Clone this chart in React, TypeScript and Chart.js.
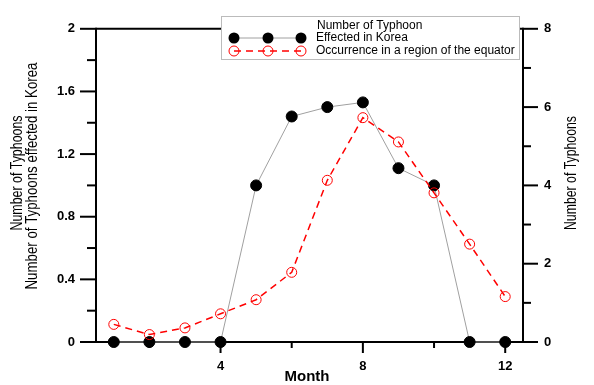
import React, { useEffect, useRef } from "react";
import { Chart, registerables } from "chart.js";

Chart.register(...registerables);

const months = [1, 2, 3, 4, 5, 6, 7, 8, 9, 10, 11, 12];
const koreaValues = [0, 0, 0, 0, 1.0, 1.44, 1.5, 1.53, 1.11, 1.0, 0, 0];
const equatorValues = [0.45, 0.19, 0.36, 0.72, 1.08, 1.78, 4.13, 5.73, 5.11, 3.81, 2.5, 1.16];
const xTickLabels = [4, 8, 12];
const leftTicks = [0, 0.4, 0.8, 1.2, 1.6, 2];
const rightTicks = [0, 2, 4, 6, 8];

const legendTitle = "Number of Typhoon";
const koreaLabel = "Effected in Korea";
const equatorLabel = "Occurrence in a region of the equator";
const leftTitle1 = "Number of Typhoons";
const leftTitle2 = "Number of Typhoons effected in Korea";
const rightTitle = "Number of Typhoons";
const xTitle = "Month";

const SANS = '"Liberation Sans", Arial, sans-serif';

function narrowText(ctx: any, text: string, x: number, y: number, targetW: number) {
  ctx.save();
  ctx.translate(x, y);
  ctx.rotate(-Math.PI / 2);
  const w = ctx.measureText(text).width;
  const s = targetW / w;
  ctx.scale(s, 1);
  ctx.fillText(text, 0, 0);
  ctx.restore();
}

const framePlugin = {
  id: "frame",
  beforeDatasetsDraw(chart: any) {
    const ctx = chart.ctx;
    const { left, right, top, bottom } = chart.chartArea;
    const xs = chart.scales.x;
    const yl = chart.scales.yL;
    const yr = chart.scales.yR;
    ctx.save();
    ctx.strokeStyle = "#000";
    ctx.lineWidth = 2;
    const ln = (a: number, b: number, c: number, d: number) => {
      ctx.beginPath();
      ctx.moveTo(a, b);
      ctx.lineTo(c, d);
      ctx.stroke();
    };
    ln(left, top, right, top);
    ln(left, bottom, right, bottom);
    ln(left, top - 1, left, bottom + 1);
    ln(right, top - 1, right, bottom + 1);
    for (let i = 0; i <= 10; i++) {
      const y = yl.getPixelForValue(i * 0.2);
      const len = i % 2 === 0 ? 16 : 9;
      ln(left - len, y, left, y);
    }
    for (let i = 0; i <= 8; i++) {
      const y = yr.getPixelForValue(i);
      const len = i % 2 === 0 ? 15 : 8;
      ln(right, y, right + len, y);
    }
    for (let m = 2; m <= 12; m += 2) {
      const x = xs.getPixelForValue(m);
      const len = m % 4 === 0 ? 11 : 6;
      ln(x, bottom, x, bottom + len);
    }
    ctx.fillStyle = "#000";
    ctx.textAlign = "center";
    ctx.textBaseline = "middle";
    ctx.font = `500 16px ${SANS}`;
    narrowText(ctx, leftTitle1, 18, 173, 115);
    narrowText(ctx, leftTitle2, 33, 176, 227);
    narrowText(ctx, rightTitle, 572, 173, 114);
    ctx.font = `bold 15px ${SANS}`;
    ctx.fillText(xTitle, 307, 377);
    ctx.restore();
  },
  afterDraw(chart: any) {
    const ctx = chart.ctx;
    ctx.save();
    const bx = 221, by = 16, bw = 298, bh = 43;
    ctx.fillStyle = "#fff";
    ctx.fillRect(bx, by, bw, bh);
    ctx.strokeStyle = "#bbb";
    ctx.lineWidth = 1;
    ctx.strokeRect(bx + 0.5, by + 0.5, bw, bh);
    const mx = [234, 268, 301];
    const yB = 38;
    ctx.strokeStyle = "#a0a0a0";
    ctx.lineWidth = 1;
    ctx.beginPath();
    ctx.moveTo(mx[0], yB);
    ctx.lineTo(mx[2], yB);
    ctx.stroke();
    ctx.fillStyle = "#000";
    for (const x of mx) {
      ctx.beginPath();
      ctx.arc(x, yB, 5.5, 0, Math.PI * 2);
      ctx.fill();
    }
    const yR = 51;
    ctx.strokeStyle = "#ff0000";
    ctx.lineWidth = 1.5;
    ctx.setLineDash([7, 5]);
    ctx.beginPath();
    ctx.moveTo(mx[0], yR);
    ctx.lineTo(mx[2], yR);
    ctx.stroke();
    ctx.setLineDash([]);
    ctx.lineWidth = 1;
    for (const x of mx) {
      ctx.beginPath();
      ctx.arc(x, yR, 5, 0, Math.PI * 2);
      ctx.stroke();
    }
    ctx.fillStyle = "#000";
    ctx.textAlign = "left";
    ctx.textBaseline = "middle";
    ctx.font = `12px ${SANS}`;
    ctx.fillText(legendTitle, 317, 26);
    ctx.fillText(koreaLabel, 316, 38);
    ctx.fillText(equatorLabel, 316, 51);
    ctx.restore();
  },
};

export default function App() {
  const ref = useRef<HTMLCanvasElement>(null);
  useEffect(() => {
    if (!ref.current) return;
    const chart = new Chart(ref.current, {
      type: "line",
      data: {
        datasets: [
          {
            label: equatorLabel,
            data: months.map((m, i) => ({ x: m, y: equatorValues[i] })),
            yAxisID: "yR",
            borderColor: "#ff0000",
            borderWidth: 1.5,
            borderDash: [7, 5],
            pointRadius: 5,
            pointBorderWidth: 1,
            pointBackgroundColor: "rgba(0,0,0,0)",
            pointBorderColor: "#ff0000",
            fill: false,
            clip: false as any,
          },
          {
            label: koreaLabel,
            data: months.map((m, i) => ({ x: m, y: koreaValues[i] })),
            yAxisID: "yL",
            borderColor: "#a0a0a0",
            borderWidth: 1,
            pointRadius: 5.5,
            pointBackgroundColor: "#000",
            pointBorderColor: "#000",
            fill: false,
            clip: false as any,
          },
        ],
      },
      options: {
        responsive: false,
        animation: false,
        events: [],
        layout: { padding: { top: 12, left: 0, right: 0, bottom: 0 } },
        plugins: { legend: { display: false }, tooltip: { enabled: false } },
        scales: {
          x: {
            type: "linear",
            min: 0.5,
            max: 12.5,
            grid: { display: false, drawTicks: false },
            border: { display: false },
            afterBuildTicks: (s: any) => {
              s.ticks = xTickLabels.map((v) => ({ value: v }));
            },
            afterFit: (s: any) => {
              s.height = 43;
            },
            ticks: {
              padding: 17,
              color: "#000",
              font: { family: SANS, size: 13, weight: "bold" },
              maxRotation: 0,
              callback: (v: any) => String(v),
            },
          },
          yL: {
            type: "linear",
            position: "left",
            min: 0,
            max: 2,
            grid: { display: false, drawTicks: false },
            border: { display: false },
            afterBuildTicks: (s: any) => {
              s.ticks = leftTicks.map((v) => ({ value: v }));
            },
            afterFit: (s: any) => {
              s.width = 96;
            },
            ticks: {
              padding: 21,
              color: "#000",
              font: { family: SANS, size: 13, weight: "bold" },
              callback: (v: any) => String(Math.round(Number(v) * 10) / 10),
            },
          },
          yR: {
            type: "linear",
            position: "right",
            min: 0,
            max: 8,
            grid: { display: false, drawTicks: false },
            border: { display: false },
            afterBuildTicks: (s: any) => {
              s.ticks = rightTicks.map((v) => ({ value: v }));
            },
            afterFit: (s: any) => {
              s.width = 71;
            },
            ticks: {
              padding: 21,
              color: "#000",
              font: { family: SANS, size: 13, weight: "bold" },
              callback: (v: any) => String(v),
            },
          },
        },
      } as any,
      plugins: [framePlugin],
    });
    return () => chart.destroy();
  }, []);
  return (
    <div style={{ position: "absolute", left: 0, top: 0, width: 594, height: 385, background: "#fff" }}>
      <canvas ref={ref} width={594} height={385} />
    </div>
  );
}
